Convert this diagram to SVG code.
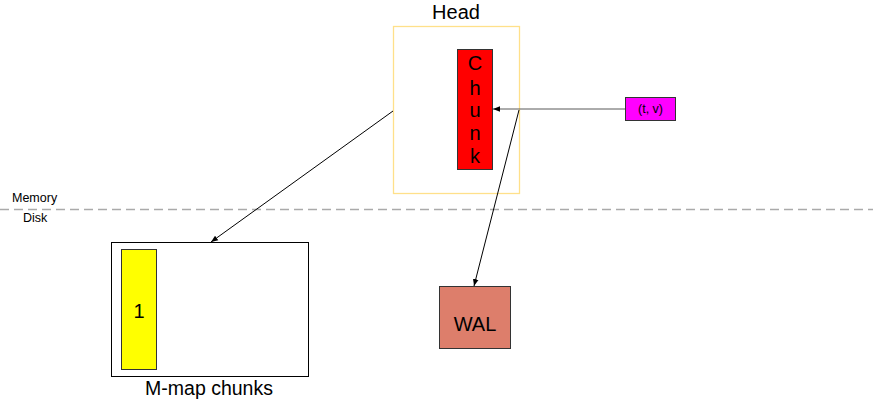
<svg xmlns="http://www.w3.org/2000/svg" width="873" height="400" viewBox="0 0 873 400">
<defs>
<style>
text{font-family:"Liberation Sans",Arial,sans-serif;fill:#000}
.box{stroke:#333;stroke-width:1}
.conn{fill:none;stroke-width:1}
</style>
<marker id="ah" viewBox="0 0 10 10" refX="10" refY="5" markerWidth="7" markerHeight="7" orient="auto" markerUnits="userSpaceOnUse">
<path d="M0,1 L10,5 L0,9 z" fill="#000"/>
</marker>
</defs>
<rect width="873" height="400" fill="#fff"/>
<g id="divider">
<line x1="0" y1="209.5" x2="873" y2="209.5" stroke="#aaaaaa" stroke-width="1.3" stroke-dasharray="9,5"/>
<text x="12" y="202" font-size="12.5">Memory</text>
<text x="23" y="222" font-size="12.5">Disk</text>
</g>
<g id="head">
<rect x="393.5" y="26.5" width="126" height="167" fill="#fff" stroke="#ffe08a" stroke-width="1.3"/>
<text x="456" y="19" font-size="20" text-anchor="middle">Head</text>
</g>
<g id="chunk">
<rect class="box" x="457.5" y="49.5" width="35" height="120" fill="#ff0000"/>
<text font-size="20" text-anchor="middle"><tspan x="475" y="70">C</tspan><tspan x="475" y="95">h</tspan><tspan x="475" y="117">u</tspan><tspan x="475" y="140">n</tspan><tspan x="475" y="163">k</tspan></text>
</g>
<g id="tv">
<rect class="box" x="625.5" y="97.5" width="50" height="23" fill="#ff00ff"/>
<text x="650.5" y="113" font-size="12.5" text-anchor="middle">(t, v)</text>
</g>
<g id="mmap">
<rect x="111.5" y="242.5" width="197" height="134" fill="#fff" stroke="#000" stroke-width="1"/>
<text x="209" y="395" font-size="19.5" text-anchor="middle">M-map chunks</text>
</g>
<g id="chunk1">
<rect class="box" x="121.5" y="249.5" width="35" height="120" fill="#ffff00"/>
<text x="139" y="318" font-size="20" text-anchor="middle">1</text>
</g>
<g id="wal">
<rect class="box" x="439.5" y="286.5" width="71" height="62" fill="#dd7e6b"/>
<text x="475" y="331" font-size="20" text-anchor="middle">WAL</text>
</g>
<g id="connectors">
<line class="conn" x1="625" y1="109" x2="493" y2="109" stroke="#595959" marker-end="url(#ah)"/>
<line class="conn" x1="393" y1="111" x2="211" y2="242" stroke="#000" marker-end="url(#ah)"/>
<line class="conn" x1="519" y1="110" x2="474" y2="286" stroke="#000" marker-end="url(#ah)"/>
</g>
</svg>
